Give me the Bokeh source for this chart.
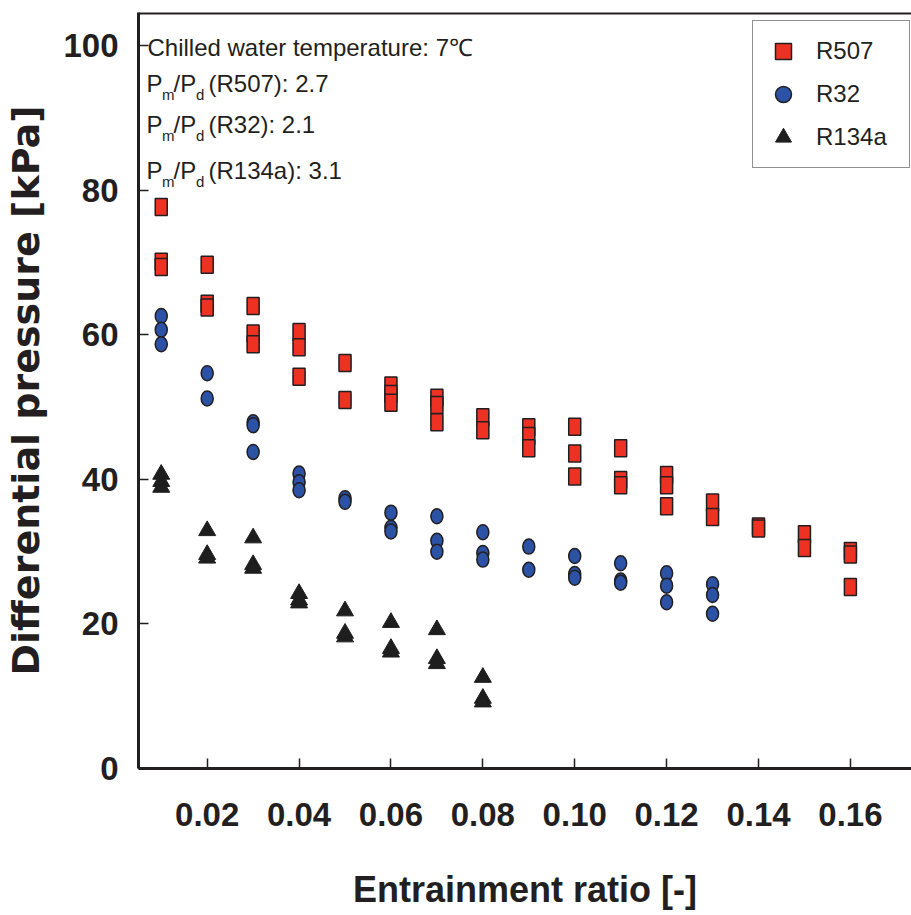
from bokeh.plotting import figure
from bokeh.models import (Range1d, FixedTicker, Legend, LegendItem, Span,
                          Label, NumeralTickFormatter)
from bokeh.embed import file_html
from bokeh.resources import INLINE

# ---------------- data ----------------
r507_x = [0.01, 0.01, 0.01, 0.02, 0.02, 0.02, 0.03, 0.03, 0.03, 0.04, 0.04, 0.04,
          0.05, 0.05, 0.06, 0.06, 0.06, 0.07, 0.07, 0.07, 0.08, 0.08,
          0.09, 0.09, 0.09, 0.10, 0.10, 0.10, 0.11, 0.11, 0.11, 0.12, 0.12, 0.12,
          0.13, 0.13, 0.14, 0.14, 0.15, 0.15, 0.16, 0.16, 0.16]
r507_y = [77.7, 70.1, 69.4, 69.7, 64.3, 63.8, 64.0, 60.2, 58.7, 60.4, 58.3, 54.2,
          56.1, 51.0, 53.0, 51.8, 50.6, 51.3, 50.3, 47.9, 48.6, 46.8,
          47.2, 46.0, 44.3, 47.3, 43.6, 40.4, 44.3, 39.9, 39.2, 40.6, 39.2, 36.3,
          36.8, 34.8, 33.5, 33.2, 32.4, 30.5, 30.1, 29.6, 25.1]

r32_x = [0.01, 0.01, 0.01, 0.02, 0.02, 0.03, 0.03, 0.03, 0.04, 0.04, 0.04,
         0.05, 0.05, 0.06, 0.06, 0.06, 0.07, 0.07, 0.07, 0.08, 0.08, 0.08,
         0.09, 0.09, 0.10, 0.10, 0.10, 0.11, 0.11, 0.11, 0.12, 0.12, 0.12,
         0.13, 0.13, 0.13]
r32_y = [62.6, 60.7, 58.7, 54.7, 51.2, 47.9, 47.5, 43.8, 40.8, 39.6, 38.5,
         37.4, 36.9, 35.4, 33.3, 32.8, 34.9, 31.5, 30.0, 32.7, 29.8, 28.9,
         30.7, 27.5, 29.4, 26.9, 26.4, 28.4, 26.0, 25.7, 27.0, 25.3, 23.0,
         25.5, 24.0, 21.4]

r134a_x = [0.01, 0.01, 0.01, 0.02, 0.02, 0.02, 0.03, 0.03, 0.03, 0.04, 0.04, 0.04,
           0.05, 0.05, 0.05, 0.06, 0.06, 0.06, 0.07, 0.07, 0.07, 0.08, 0.08, 0.08]
r134a_y = [40.7, 39.7, 38.9, 32.9, 29.6, 29.1, 31.9, 28.2, 27.7, 24.2, 23.3, 22.9,
           21.8, 18.7, 18.2, 20.2, 16.6, 16.1, 19.2, 15.2, 14.5, 12.6, 9.7, 9.2]

x_ticks = [0.02, 0.04, 0.06, 0.08, 0.10, 0.12, 0.14, 0.16]
y_ticks = [0, 20, 40, 60, 80, 100]

series_names = ["R507", "R32", "R134a"]
ratio_labels = ["(R507): 2.7", "(R32): 2.1", "(R134a): 3.1"]
note_title = "Chilled water temperature: 7\u2103"

# ---------------- style ----------------
SANS = "Liberation Sans"
INK = "#231F20"
RED = "#ED3224"
BLUE = "#2B52A5"
DARK = "#1E1E1E"
X_LO, X_HI = 0.00505, 0.1733
Y_LO, Y_HI = 0, 104.6

p = figure(width=911, height=915, output_backend="svg", toolbar_location=None,
           x_range=Range1d(X_LO, X_HI), y_range=Range1d(Y_LO, Y_HI),
           min_border_left=138, min_border_right=0, min_border_top=12,
           min_border_bottom=147, outline_line_color=None)
p.grid.visible = False

# axes
for ax in (p.xaxis[0], p.yaxis[0]):
    ax.axis_line_width = 3
    ax.axis_line_color = INK
    ax.major_tick_in = 10
    ax.major_tick_out = 0
    ax.major_tick_line_width = 1.5
    ax.major_tick_line_color = INK
    ax.minor_tick_in = 0
    ax.minor_tick_out = 0
    ax.major_label_text_font = SANS
    ax.major_label_text_font_style = "bold"
    ax.major_label_text_font_size = "33px"
    ax.major_label_text_color = INK
    ax.axis_label_text_color = INK
    ax.axis_label_text_font_style = "bold"

p.xaxis.ticker = FixedTicker(ticks=x_ticks)
p.xaxis.formatter = NumeralTickFormatter(format="0.00")
p.xaxis.major_label_standoff = 34
p.xaxis.axis_label = "Entrainment ratio [-]"
p.xaxis.axis_label_text_font = SANS
p.xaxis.axis_label_text_font_size = "36px"
p.xaxis.axis_label_standoff = 40

p.yaxis.ticker = FixedTicker(ticks=y_ticks)
p.yaxis.formatter = NumeralTickFormatter(format="0")
p.yaxis.major_label_standoff = 20
p.yaxis.axis_label = "Differential pressure [kPa]"
p.yaxis.axis_label_text_font = "DejaVu Sans"
p.yaxis.axis_label_text_font_size = "38px"
p.yaxis.axis_label_standoff = 12

# thick top border line
p.add_layout(Span(location=Y_HI, dimension="width", line_color=INK, line_width=4))

# data markers (small markers underneath give the legend its glyphs)
sq_mark = p.scatter(r507_x, r507_y, marker="square", size=11, fill_color=RED,
                    line_color=INK, line_width=1.5)
ci_mark = p.scatter(r32_x, r32_y, marker="circle", size=11, fill_color=BLUE,
                    line_color=INK, line_width=1.5)
p.rect(r507_x, r507_y, width=12, height=17, width_units="screen", height_units="screen",
       fill_color=RED, line_color=INK, line_width=1.5)
p.ellipse(r32_x, r32_y, width=12, height=15, width_units="screen", height_units="screen",
          fill_color=BLUE, line_color=INK, line_width=1.5)
tri = p.scatter(r134a_x, r134a_y, marker="triangle", size=17,
                fill_color=DARK, line_color=DARK, line_width=1)

legend = Legend(items=[LegendItem(label=series_names[0], renderers=[sq_mark]),
                       LegendItem(label=series_names[1], renderers=[ci_mark]),
                       LegendItem(label=series_names[2], renderers=[tri])],
                location=(614, 600), padding=10, margin=0,
                glyph_width=40, glyph_height=40, spacing=3,
                label_standoff=13, label_width=83,
                label_text_font=SANS, label_text_font_size="24px",
                label_text_color=INK,
                border_line_color=INK, border_line_width=1.5,
                background_fill_color="white", background_fill_alpha=1)
p.add_layout(legend)

# annotation block (screen units relative to the plot frame)
def note(text, x, y, size):
    p.add_layout(Label(x=x, y=y, x_units="screen", y_units="screen", text=text,
                       text_font=SANS, text_font_size=size, text_color=INK,
                       text_baseline="alphabetic", text_align="left"))

note(note_title, 9, 721, "24px")
for lbl, base in zip(ratio_labels, [685, 644, 598]):
    note("P", 8, base, "24px")
    note("m", 23.5, base - 11, "15px")
    note("/P", 35, base, "24px")
    note("d", 57.5, base - 11, "15px")
    note(lbl, 70, base, "24px")

open("out.html", "w").write(file_html(p, INLINE))
